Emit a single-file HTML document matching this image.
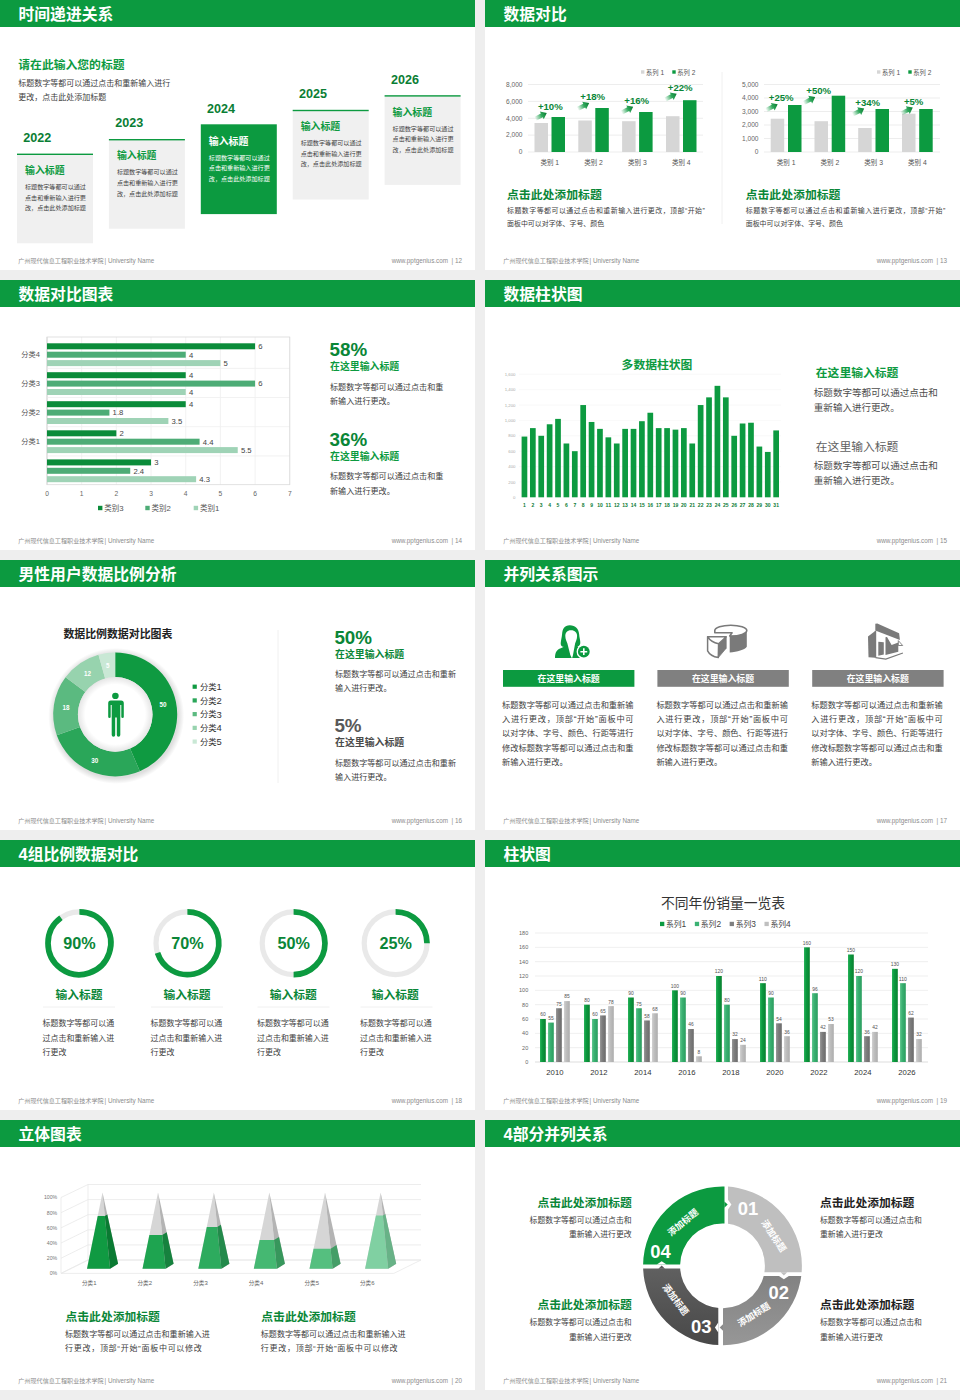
<!DOCTYPE html>
<html lang="zh-CN">
<head>
<meta charset="utf-8">
<title>PPT 模板预览</title>
<style>
html,body{margin:0;padding:0}
body{width:960px;height:1400px;position:relative;overflow:hidden;background:#eee;font-family:"Liberation Sans","Noto Sans CJK SC",sans-serif}
.s{position:absolute;width:475px;height:270px;background:#fff;overflow:hidden}
.s svg{display:block}
svg text{font-family:"Liberation Sans","Noto Sans CJK SC",sans-serif;white-space:pre}
</style>
</head>
<body>
<section class="s" style="left:0px;top:0px" aria-label="时间递进关系"><svg width="475" height="270" viewBox="0 0 475 270">
<rect x="0" y="0" width="475" height="27" fill="#0c9a40"/>
<text x="18.5" y="19.6" font-size="15.8" font-weight="bold" fill="#fff">时间递进关系</text>
<text x="18.3" y="263.32" font-size="6.1" fill="#8c8c8c">广州现代信息工程职业技术学院</text>
<text x="104.6" y="263.2" font-size="6.3" fill="#8c8c8c" textLength="49.6" lengthAdjust="spacingAndGlyphs">| University Name</text>
<text x="462" y="263.2" font-size="6.3" text-anchor="end" fill="#8c8c8c" textLength="70.27" lengthAdjust="spacingAndGlyphs">www.pptgenius.com  | 12</text>
<text x="18.3" y="69.08" font-size="11.8" font-weight="bold" fill="#0c9a40">请在此输入您的标题</text>
<text x="18.3" y="85.64" font-size="8" fill="#404040">标题数字等都可以通过点击和重新输入进行</text>
<text x="18.3" y="99.84" font-size="8" fill="#404040">更改，点击此处添加标题</text>
<rect x="17" y="154" width="76" height="89.3" fill="#f0f0f0"/>
<rect x="17" y="153.6" width="76" height="1.4" fill="#0c9a40"/>
<text x="23.3" y="141.9" font-size="12.6" font-weight="bold" fill="#0a7e34" textLength="28.03" lengthAdjust="spacingAndGlyphs">2022</text>
<text x="25" y="173.96" font-size="9.9" font-weight="bold" fill="#0c9a40">输入标题</text>
<text x="25" y="188.92" font-size="6.1" fill="#404040">标题数字等都可以通过</text>
<text x="25" y="199.52" font-size="6.1" fill="#404040">点击和重新输入进行更</text>
<text x="25" y="210.12" font-size="6.1" fill="#404040">改，点击此处添加标题</text>
<rect x="108.9" y="139.4" width="76" height="89.3" fill="#f0f0f0"/>
<rect x="108.9" y="139" width="76" height="1.4" fill="#0c9a40"/>
<text x="115.2" y="127.3" font-size="12.6" font-weight="bold" fill="#0a7e34" textLength="28.03" lengthAdjust="spacingAndGlyphs">2023</text>
<text x="116.9" y="159.36" font-size="9.9" font-weight="bold" fill="#0c9a40">输入标题</text>
<text x="116.9" y="174.32" font-size="6.1" fill="#404040">标题数字等都可以通过</text>
<text x="116.9" y="184.92" font-size="6.1" fill="#404040">点击和重新输入进行更</text>
<text x="116.9" y="195.52" font-size="6.1" fill="#404040">改，点击此处添加标题</text>
<rect x="200.8" y="124.3" width="76" height="89.8" fill="#0c9a40"/>
<text x="207.1" y="112.7" font-size="12.6" font-weight="bold" fill="#0a7e34" textLength="28.03" lengthAdjust="spacingAndGlyphs">2024</text>
<text x="208.8" y="144.76" font-size="9.9" font-weight="bold" fill="#fff">输入标题</text>
<text x="208.8" y="159.72" font-size="6.1" fill="#fff">标题数字等都可以通过</text>
<text x="208.8" y="170.32" font-size="6.1" fill="#fff">点击和重新输入进行更</text>
<text x="208.8" y="180.92" font-size="6.1" fill="#fff">改，点击此处添加标题</text>
<rect x="292.7" y="110.2" width="76" height="89.3" fill="#f0f0f0"/>
<rect x="292.7" y="109.8" width="76" height="1.4" fill="#0c9a40"/>
<text x="299" y="98.1" font-size="12.6" font-weight="bold" fill="#0a7e34" textLength="28.03" lengthAdjust="spacingAndGlyphs">2025</text>
<text x="300.7" y="130.16" font-size="9.9" font-weight="bold" fill="#0c9a40">输入标题</text>
<text x="300.7" y="145.12" font-size="6.1" fill="#404040">标题数字等都可以通过</text>
<text x="300.7" y="155.72" font-size="6.1" fill="#404040">点击和重新输入进行更</text>
<text x="300.7" y="166.32" font-size="6.1" fill="#404040">改，点击此处添加标题</text>
<rect x="384.6" y="95.6" width="76" height="89.3" fill="#f0f0f0"/>
<rect x="384.6" y="95.2" width="76" height="1.4" fill="#0c9a40"/>
<text x="390.9" y="83.5" font-size="12.6" font-weight="bold" fill="#0a7e34" textLength="28.03" lengthAdjust="spacingAndGlyphs">2026</text>
<text x="392.6" y="115.56" font-size="9.9" font-weight="bold" fill="#0c9a40">输入标题</text>
<text x="392.6" y="130.52" font-size="6.1" fill="#404040">标题数字等都可以通过</text>
<text x="392.6" y="141.12" font-size="6.1" fill="#404040">点击和重新输入进行更</text>
<text x="392.6" y="151.72" font-size="6.1" fill="#404040">改，点击此处添加标题</text>
</svg></section>
<section class="s" style="left:485px;top:0px" aria-label="数据对比"><svg width="475" height="270" viewBox="485 0 475 270">
<rect x="485" y="0" width="475" height="27" fill="#0c9a40"/>
<text x="503.5" y="19.6" font-size="15.8" font-weight="bold" fill="#fff">数据对比</text>
<text x="503.3" y="263.32" font-size="6.1" fill="#8c8c8c">广州现代信息工程职业技术学院</text>
<text x="589.6" y="263.2" font-size="6.3" fill="#8c8c8c" textLength="49.6" lengthAdjust="spacingAndGlyphs">| University Name</text>
<text x="947" y="263.2" font-size="6.3" text-anchor="end" fill="#8c8c8c" textLength="70.27" lengthAdjust="spacingAndGlyphs">www.pptgenius.com  | 13</text>
<defs><linearGradient id="ag" x1="-13" y1="0" x2="0" y2="0" gradientUnits="userSpaceOnUse"><stop offset="0" stop-color="#0c9a40" stop-opacity="0"/><stop offset=".55" stop-color="#0c9a40" stop-opacity=".85"/><stop offset="1" stop-color="#087a30"/></linearGradient></defs>
<line x1="528" y1="84.5" x2="703" y2="84.5" stroke="#e8e8e8" stroke-width="0.8"/>
<text x="522.5" y="86.8" font-size="6.6" text-anchor="end" fill="#666" textLength="16.52" lengthAdjust="spacingAndGlyphs">8,000</text>
<line x1="528" y1="101.38" x2="703" y2="101.38" stroke="#e8e8e8" stroke-width="0.8"/>
<text x="522.5" y="103.67" font-size="6.6" text-anchor="end" fill="#666" textLength="16.52" lengthAdjust="spacingAndGlyphs">6,000</text>
<line x1="528" y1="118.25" x2="703" y2="118.25" stroke="#e8e8e8" stroke-width="0.8"/>
<text x="522.5" y="120.55" font-size="6.6" text-anchor="end" fill="#666" textLength="16.52" lengthAdjust="spacingAndGlyphs">4,000</text>
<line x1="528" y1="135.12" x2="703" y2="135.12" stroke="#e8e8e8" stroke-width="0.8"/>
<text x="522.5" y="137.43" font-size="6.6" text-anchor="end" fill="#666" textLength="16.52" lengthAdjust="spacingAndGlyphs">2,000</text>
<line x1="528" y1="152" x2="703" y2="152" stroke="#e8e8e8" stroke-width="0.8"/>
<text x="522.5" y="154.3" font-size="6.6" text-anchor="end" fill="#666" textLength="3.67" lengthAdjust="spacingAndGlyphs">0</text>
<rect x="534.5" y="123" width="13.5" height="29" fill="#d6d6d6"/>
<rect x="551.5" y="117" width="13.5" height="35" fill="#0c9a40"/>
<text x="540.41" y="164.67" font-size="6.5" fill="#555">类别</text><text x="553.41" y="164.65" font-size="6.8" fill="#555" textLength="5.67" lengthAdjust="spacingAndGlyphs"> 1</text>
<rect x="578.3" y="120.5" width="13.5" height="31.5" fill="#d6d6d6"/>
<rect x="595.3" y="108" width="13.5" height="44" fill="#0c9a40"/>
<text x="584.21" y="164.67" font-size="6.5" fill="#555">类别</text><text x="597.21" y="164.65" font-size="6.8" fill="#555" textLength="5.67" lengthAdjust="spacingAndGlyphs"> 2</text>
<rect x="622.1" y="121.2" width="13.5" height="30.8" fill="#d6d6d6"/>
<rect x="639.1" y="112" width="13.5" height="40" fill="#0c9a40"/>
<text x="628.01" y="164.67" font-size="6.5" fill="#555">类别</text><text x="641.01" y="164.65" font-size="6.8" fill="#555" textLength="5.67" lengthAdjust="spacingAndGlyphs"> 3</text>
<rect x="666" y="116.2" width="13.5" height="35.8" fill="#d6d6d6"/>
<rect x="683" y="100.2" width="13.5" height="51.8" fill="#0c9a40"/>
<text x="671.91" y="164.67" font-size="6.5" fill="#555">类别</text><text x="684.91" y="164.65" font-size="6.8" fill="#555" textLength="5.67" lengthAdjust="spacingAndGlyphs"> 4</text>
<text x="537.9" y="110" font-size="9.6" font-weight="bold" fill="#0a8637" textLength="24.82" lengthAdjust="spacingAndGlyphs">+10%</text>
<path d="M0 0L-5.6-4.3L-5.6-2.1L-13-2.1L-13 2.1L-5.6 2.1L-5.6 4.3Z" fill="url(#ag)" transform="translate(546.8 112.9) rotate(-27)"/>
<text x="580.3" y="100.1" font-size="9.6" font-weight="bold" fill="#0a8637" textLength="24.82" lengthAdjust="spacingAndGlyphs">+18%</text>
<path d="M0 0L-5.6-4.3L-5.6-2.1L-13-2.1L-13 2.1L-5.6 2.1L-5.6 4.3Z" fill="url(#ag)" transform="translate(589.2 103) rotate(-27)"/>
<text x="624.3" y="103.8" font-size="9.6" font-weight="bold" fill="#0a8637" textLength="24.82" lengthAdjust="spacingAndGlyphs">+16%</text>
<path d="M0 0L-5.6-4.3L-5.6-2.1L-13-2.1L-13 2.1L-5.6 2.1L-5.6 4.3Z" fill="url(#ag)" transform="translate(633.2 106.7) rotate(-27)"/>
<text x="667.8" y="90.8" font-size="9.6" font-weight="bold" fill="#0a8637" textLength="24.82" lengthAdjust="spacingAndGlyphs">+22%</text>
<path d="M0 0L-5.6-4.3L-5.6-2.1L-13-2.1L-13 2.1L-5.6 2.1L-5.6 4.3Z" fill="url(#ag)" transform="translate(676.7 93.7) rotate(-27)"/>
<rect x="641" y="70.3" width="3.4" height="3.4" fill="#d6d6d6"/>
<text x="646" y="74.59" font-size="6.3" fill="#555">系列</text><text x="658.6" y="74.58" font-size="6.6" fill="#555" textLength="5.5" lengthAdjust="spacingAndGlyphs"> 1</text>
<rect x="672.3" y="70.3" width="3.4" height="3.4" fill="#0c9a40"/>
<text x="677.3" y="74.59" font-size="6.3" fill="#555">系列</text><text x="689.9" y="74.58" font-size="6.6" fill="#555" textLength="5.5" lengthAdjust="spacingAndGlyphs"> 2</text>
<line x1="764" y1="84.5" x2="940" y2="84.5" stroke="#e8e8e8" stroke-width="0.8"/>
<text x="758.5" y="86.8" font-size="6.6" text-anchor="end" fill="#666" textLength="16.52" lengthAdjust="spacingAndGlyphs">5,000</text>
<line x1="764" y1="98" x2="940" y2="98" stroke="#e8e8e8" stroke-width="0.8"/>
<text x="758.5" y="100.3" font-size="6.6" text-anchor="end" fill="#666" textLength="16.52" lengthAdjust="spacingAndGlyphs">4,000</text>
<line x1="764" y1="111.5" x2="940" y2="111.5" stroke="#e8e8e8" stroke-width="0.8"/>
<text x="758.5" y="113.8" font-size="6.6" text-anchor="end" fill="#666" textLength="16.52" lengthAdjust="spacingAndGlyphs">3,000</text>
<line x1="764" y1="125" x2="940" y2="125" stroke="#e8e8e8" stroke-width="0.8"/>
<text x="758.5" y="127.3" font-size="6.6" text-anchor="end" fill="#666" textLength="16.52" lengthAdjust="spacingAndGlyphs">2,000</text>
<line x1="764" y1="138.5" x2="940" y2="138.5" stroke="#e8e8e8" stroke-width="0.8"/>
<text x="758.5" y="140.8" font-size="6.6" text-anchor="end" fill="#666" textLength="16.52" lengthAdjust="spacingAndGlyphs">1,000</text>
<line x1="764" y1="152" x2="940" y2="152" stroke="#e8e8e8" stroke-width="0.8"/>
<text x="758.5" y="154.3" font-size="6.6" text-anchor="end" fill="#666" textLength="3.67" lengthAdjust="spacingAndGlyphs">0</text>
<rect x="770.7" y="118.7" width="13.5" height="33.3" fill="#d6d6d6"/>
<rect x="788" y="105" width="13.5" height="47" fill="#0c9a40"/>
<text x="776.76" y="164.67" font-size="6.5" fill="#555">类别</text><text x="789.76" y="164.65" font-size="6.8" fill="#555" textLength="5.67" lengthAdjust="spacingAndGlyphs"> 1</text>
<rect x="814.5" y="121.2" width="13.5" height="30.8" fill="#d6d6d6"/>
<rect x="831.7" y="95.7" width="13.5" height="56.3" fill="#0c9a40"/>
<text x="820.51" y="164.67" font-size="6.5" fill="#555">类别</text><text x="833.51" y="164.65" font-size="6.8" fill="#555" textLength="5.67" lengthAdjust="spacingAndGlyphs"> 2</text>
<rect x="858.2" y="128" width="13.5" height="24" fill="#d6d6d6"/>
<rect x="875.5" y="109" width="13.5" height="43" fill="#0c9a40"/>
<text x="864.26" y="164.67" font-size="6.5" fill="#555">类别</text><text x="877.26" y="164.65" font-size="6.8" fill="#555" textLength="5.67" lengthAdjust="spacingAndGlyphs"> 3</text>
<rect x="902" y="113.7" width="13.5" height="38.3" fill="#d6d6d6"/>
<rect x="919.2" y="109" width="13.5" height="43" fill="#0c9a40"/>
<text x="908.01" y="164.67" font-size="6.5" fill="#555">类别</text><text x="921.01" y="164.65" font-size="6.8" fill="#555" textLength="5.67" lengthAdjust="spacingAndGlyphs"> 4</text>
<text x="768.8" y="101.3" font-size="9.6" font-weight="bold" fill="#0a8637" textLength="24.82" lengthAdjust="spacingAndGlyphs">+25%</text>
<path d="M0 0L-5.6-4.3L-5.6-2.1L-13-2.1L-13 2.1L-5.6 2.1L-5.6 4.3Z" fill="url(#ag)" transform="translate(777.7 104.2) rotate(-27)"/>
<text x="806.3" y="94.2" font-size="9.6" font-weight="bold" fill="#0a8637" textLength="24.82" lengthAdjust="spacingAndGlyphs">+50%</text>
<path d="M0 0L-5.6-4.3L-5.6-2.1L-13-2.1L-13 2.1L-5.6 2.1L-5.6 4.3Z" fill="url(#ag)" transform="translate(815.2 97.1) rotate(-27)"/>
<text x="855.3" y="105.7" font-size="9.6" font-weight="bold" fill="#0a8637" textLength="24.82" lengthAdjust="spacingAndGlyphs">+34%</text>
<path d="M0 0L-5.6-4.3L-5.6-2.1L-13-2.1L-13 2.1L-5.6 2.1L-5.6 4.3Z" fill="url(#ag)" transform="translate(864.2 108.6) rotate(-27)"/>
<text x="903.9" y="104.7" font-size="9.6" font-weight="bold" fill="#0a8637" textLength="19.48" lengthAdjust="spacingAndGlyphs">+5%</text>
<path d="M0 0L-5.6-4.3L-5.6-2.1L-13-2.1L-13 2.1L-5.6 2.1L-5.6 4.3Z" fill="url(#ag)" transform="translate(912.8 107.6) rotate(-27)"/>
<rect x="877" y="70.3" width="3.4" height="3.4" fill="#d6d6d6"/>
<text x="882" y="74.59" font-size="6.3" fill="#555">系列</text><text x="894.6" y="74.58" font-size="6.6" fill="#555" textLength="5.5" lengthAdjust="spacingAndGlyphs"> 1</text>
<rect x="908.3" y="70.3" width="3.4" height="3.4" fill="#0c9a40"/>
<text x="913.3" y="74.59" font-size="6.3" fill="#555">系列</text><text x="925.9" y="74.58" font-size="6.6" fill="#555" textLength="5.5" lengthAdjust="spacingAndGlyphs"> 2</text>
<line x1="722" y1="72" x2="722" y2="224" stroke="#ececec" stroke-width="0.8"/>
<text x="507" y="198.7" font-size="11.85" font-weight="bold" fill="#0a8637">点击此处添加标题</text>
<text x="507" y="213.34" font-size="6.95" fill="#404040" textLength="197.8" lengthAdjust="spacing">标题数字等都可以通过点击和重新输入进行更改，顶部“开始”</text>
<text x="507" y="226.14" font-size="6.95" fill="#404040">面板中可以对字体、字号、颜色</text>
<text x="745.7" y="198.7" font-size="11.85" font-weight="bold" fill="#0a8637">点击此处添加标题</text>
<text x="745.7" y="213.34" font-size="6.95" fill="#404040" textLength="199.6" lengthAdjust="spacing">标题数字等都可以通过点击和重新输入进行更改，顶部“开始”</text>
<text x="745.7" y="226.14" font-size="6.95" fill="#404040">面板中可以对字体、字号、颜色</text>
</svg></section>
<section class="s" style="left:0px;top:280px" aria-label="数据对比图表"><svg width="475" height="270" viewBox="0 280 475 270">
<rect x="0" y="280" width="475" height="27" fill="#0c9a40"/>
<text x="18.5" y="299.6" font-size="15.8" font-weight="bold" fill="#fff">数据对比图表</text>
<text x="18.3" y="543.32" font-size="6.1" fill="#8c8c8c">广州现代信息工程职业技术学院</text>
<text x="104.6" y="543.2" font-size="6.3" fill="#8c8c8c" textLength="49.6" lengthAdjust="spacingAndGlyphs">| University Name</text>
<text x="462" y="543.2" font-size="6.3" text-anchor="end" fill="#8c8c8c" textLength="70.27" lengthAdjust="spacingAndGlyphs">www.pptgenius.com  | 14</text>
<line x1="47" y1="337" x2="47" y2="484.7" stroke="#d0d0d0" stroke-width="0.8"/>
<text x="47" y="495.8" font-size="6.7" text-anchor="middle" fill="#666" textLength="3.73" lengthAdjust="spacingAndGlyphs">0</text>
<line x1="81.68" y1="337" x2="81.68" y2="484.7" stroke="#efefef" stroke-width="0.8"/>
<text x="81.68" y="495.8" font-size="6.7" text-anchor="middle" fill="#666" textLength="3.73" lengthAdjust="spacingAndGlyphs">1</text>
<line x1="116.36" y1="337" x2="116.36" y2="484.7" stroke="#efefef" stroke-width="0.8"/>
<text x="116.36" y="495.8" font-size="6.7" text-anchor="middle" fill="#666" textLength="3.73" lengthAdjust="spacingAndGlyphs">2</text>
<line x1="151.04" y1="337" x2="151.04" y2="484.7" stroke="#efefef" stroke-width="0.8"/>
<text x="151.04" y="495.8" font-size="6.7" text-anchor="middle" fill="#666" textLength="3.73" lengthAdjust="spacingAndGlyphs">3</text>
<line x1="185.72" y1="337" x2="185.72" y2="484.7" stroke="#efefef" stroke-width="0.8"/>
<text x="185.72" y="495.8" font-size="6.7" text-anchor="middle" fill="#666" textLength="3.73" lengthAdjust="spacingAndGlyphs">4</text>
<line x1="220.4" y1="337" x2="220.4" y2="484.7" stroke="#efefef" stroke-width="0.8"/>
<text x="220.4" y="495.8" font-size="6.7" text-anchor="middle" fill="#666" textLength="3.73" lengthAdjust="spacingAndGlyphs">5</text>
<line x1="255.08" y1="337" x2="255.08" y2="484.7" stroke="#efefef" stroke-width="0.8"/>
<text x="255.08" y="495.8" font-size="6.7" text-anchor="middle" fill="#666" textLength="3.73" lengthAdjust="spacingAndGlyphs">6</text>
<line x1="289.76" y1="337" x2="289.76" y2="484.7" stroke="#efefef" stroke-width="0.8"/>
<text x="289.76" y="495.8" font-size="6.7" text-anchor="middle" fill="#666" textLength="3.73" lengthAdjust="spacingAndGlyphs">7</text>
<line x1="47" y1="368.4" x2="289.76" y2="368.4" stroke="#efefef" stroke-width="0.8"/>
<line x1="47" y1="397.5" x2="289.76" y2="397.5" stroke="#efefef" stroke-width="0.8"/>
<line x1="47" y1="426.7" x2="289.76" y2="426.7" stroke="#efefef" stroke-width="0.8"/>
<line x1="47" y1="455.9" x2="289.76" y2="455.9" stroke="#efefef" stroke-width="0.8"/>
<rect x="47" y="337" width="242.76" height="147.7" fill="none" stroke="#dadada" stroke-width=".8"/>
<rect x="47" y="343.3" width="208.08" height="6" fill="#0b8c3a"/>
<text x="258.28" y="349.1" font-size="7.7" fill="#444" textLength="4.28" lengthAdjust="spacingAndGlyphs">6</text>
<rect x="47" y="351.7" width="138.72" height="6" fill="#4dac76"/>
<text x="188.92" y="357.5" font-size="7.7" fill="#444" textLength="4.28" lengthAdjust="spacingAndGlyphs">4</text>
<rect x="47" y="360.1" width="173.4" height="6" fill="#9fd3b6"/>
<text x="223.6" y="365.9" font-size="7.7" fill="#444" textLength="4.28" lengthAdjust="spacingAndGlyphs">5</text>
<text x="21.37" y="357.34" font-size="7.2" fill="#555">分类</text><text x="35.77" y="357.34" font-size="7.6" fill="#555" textLength="4.23" lengthAdjust="spacingAndGlyphs">4</text>
<rect x="47" y="372.2" width="138.72" height="6" fill="#0b8c3a"/>
<text x="188.92" y="378" font-size="7.7" fill="#444" textLength="4.28" lengthAdjust="spacingAndGlyphs">4</text>
<rect x="47" y="380.6" width="208.08" height="6" fill="#4dac76"/>
<text x="258.28" y="386.4" font-size="7.7" fill="#444" textLength="4.28" lengthAdjust="spacingAndGlyphs">6</text>
<rect x="47" y="389" width="138.72" height="6" fill="#9fd3b6"/>
<text x="188.92" y="394.8" font-size="7.7" fill="#444" textLength="4.28" lengthAdjust="spacingAndGlyphs">4</text>
<text x="21.37" y="386.24" font-size="7.2" fill="#555">分类</text><text x="35.77" y="386.24" font-size="7.6" fill="#555" textLength="4.23" lengthAdjust="spacingAndGlyphs">3</text>
<rect x="47" y="401.2" width="138.72" height="6" fill="#0b8c3a"/>
<text x="188.92" y="407" font-size="7.7" fill="#444" textLength="4.28" lengthAdjust="spacingAndGlyphs">4</text>
<rect x="47" y="409.6" width="62.42" height="6" fill="#4dac76"/>
<text x="112.62" y="415.4" font-size="7.7" fill="#444" textLength="10.7" lengthAdjust="spacingAndGlyphs">1.8</text>
<rect x="47" y="418" width="121.38" height="6" fill="#9fd3b6"/>
<text x="171.58" y="423.8" font-size="7.7" fill="#444" textLength="10.7" lengthAdjust="spacingAndGlyphs">3.5</text>
<text x="21.37" y="415.24" font-size="7.2" fill="#555">分类</text><text x="35.77" y="415.24" font-size="7.6" fill="#555" textLength="4.23" lengthAdjust="spacingAndGlyphs">2</text>
<rect x="47" y="430.3" width="69.36" height="6" fill="#0b8c3a"/>
<text x="119.56" y="436.1" font-size="7.7" fill="#444" textLength="4.28" lengthAdjust="spacingAndGlyphs">2</text>
<rect x="47" y="438.7" width="152.59" height="6" fill="#4dac76"/>
<text x="202.79" y="444.5" font-size="7.7" fill="#444" textLength="10.7" lengthAdjust="spacingAndGlyphs">4.4</text>
<rect x="47" y="447.1" width="190.74" height="6" fill="#9fd3b6"/>
<text x="240.94" y="452.9" font-size="7.7" fill="#444" textLength="10.7" lengthAdjust="spacingAndGlyphs">5.5</text>
<text x="21.37" y="444.34" font-size="7.2" fill="#555">分类</text><text x="35.77" y="444.34" font-size="7.6" fill="#555" textLength="4.23" lengthAdjust="spacingAndGlyphs">1</text>
<rect x="47" y="459.4" width="104.04" height="6" fill="#0b8c3a"/>
<text x="154.24" y="465.2" font-size="7.7" fill="#444" textLength="4.28" lengthAdjust="spacingAndGlyphs">3</text>
<rect x="47" y="467.8" width="83.23" height="6" fill="#4dac76"/>
<text x="133.43" y="473.6" font-size="7.7" fill="#444" textLength="10.7" lengthAdjust="spacingAndGlyphs">2.4</text>
<rect x="47" y="476.2" width="149.12" height="6" fill="#9fd3b6"/>
<text x="199.32" y="482" font-size="7.7" fill="#444" textLength="10.7" lengthAdjust="spacingAndGlyphs">4.3</text>
<rect x="98" y="505.8" width="4.4" height="4.4" fill="#0b8c3a"/>
<text x="104.2" y="511.05" font-size="7.5" fill="#555">类别</text><text x="119.2" y="511.01" font-size="7.8" fill="#555" textLength="4.34" lengthAdjust="spacingAndGlyphs">3</text>
<rect x="145.3" y="505.8" width="4.4" height="4.4" fill="#4dac76"/>
<text x="151.5" y="511.05" font-size="7.5" fill="#555">类别</text><text x="166.5" y="511.01" font-size="7.8" fill="#555" textLength="4.34" lengthAdjust="spacingAndGlyphs">2</text>
<rect x="193.7" y="505.8" width="4.4" height="4.4" fill="#9fd3b6"/>
<text x="199.9" y="511.05" font-size="7.5" fill="#555">类别</text><text x="214.9" y="511.01" font-size="7.8" fill="#555" textLength="4.34" lengthAdjust="spacingAndGlyphs">1</text>
<text x="329.6" y="356.3" font-size="18.8" font-weight="bold" fill="#0a8637" textLength="37.63" lengthAdjust="spacingAndGlyphs">58%</text>
<text x="330" y="370.36" font-size="9.9" font-weight="bold" fill="#0c9a40">在这里输入标题</text>
<text x="330" y="389.88" font-size="8.1" fill="#404040">标题数字等都可以通过点击和重</text>
<text x="330" y="404.28" font-size="8.1" fill="#404040">新输入进行更改。</text>
<text x="329.6" y="445.9" font-size="18.8" font-weight="bold" fill="#0a8637" textLength="37.63" lengthAdjust="spacingAndGlyphs">36%</text>
<text x="330" y="459.96" font-size="9.9" font-weight="bold" fill="#0c9a40">在这里输入标题</text>
<text x="330" y="479.48" font-size="8.1" fill="#404040">标题数字等都可以通过点击和重</text>
<text x="330" y="493.88" font-size="8.1" fill="#404040">新输入进行更改。</text>
</svg></section>
<section class="s" style="left:485px;top:280px" aria-label="数据柱状图"><svg width="475" height="270" viewBox="485 280 475 270">
<rect x="485" y="280" width="475" height="27" fill="#0c9a40"/>
<text x="503.5" y="299.6" font-size="15.8" font-weight="bold" fill="#fff">数据柱状图</text>
<text x="503.3" y="543.32" font-size="6.1" fill="#8c8c8c">广州现代信息工程职业技术学院</text>
<text x="589.6" y="543.2" font-size="6.3" fill="#8c8c8c" textLength="49.6" lengthAdjust="spacingAndGlyphs">| University Name</text>
<text x="947" y="543.2" font-size="6.3" text-anchor="end" fill="#8c8c8c" textLength="70.27" lengthAdjust="spacingAndGlyphs">www.pptgenius.com  | 15</text>
<text x="621.6" y="369.18" font-size="11.8" font-weight="bold" fill="#0c9a40">多数据柱状图</text>
<text x="515.5" y="498.9" font-size="4.3" text-anchor="end" fill="#aaa" textLength="2.39" lengthAdjust="spacingAndGlyphs">0</text>
<line x1="519" y1="481.93" x2="781" y2="481.93" stroke="#f6f6f6" stroke-width="0.7"/>
<text x="515.5" y="483.53" font-size="4.3" text-anchor="end" fill="#aaa" textLength="7.17" lengthAdjust="spacingAndGlyphs">200</text>
<line x1="519" y1="466.55" x2="781" y2="466.55" stroke="#f6f6f6" stroke-width="0.7"/>
<text x="515.5" y="468.15" font-size="4.3" text-anchor="end" fill="#aaa" textLength="7.17" lengthAdjust="spacingAndGlyphs">400</text>
<line x1="519" y1="451.18" x2="781" y2="451.18" stroke="#f6f6f6" stroke-width="0.7"/>
<text x="515.5" y="452.78" font-size="4.3" text-anchor="end" fill="#aaa" textLength="7.17" lengthAdjust="spacingAndGlyphs">600</text>
<line x1="519" y1="435.8" x2="781" y2="435.8" stroke="#f6f6f6" stroke-width="0.7"/>
<text x="515.5" y="437.4" font-size="4.3" text-anchor="end" fill="#aaa" textLength="7.17" lengthAdjust="spacingAndGlyphs">800</text>
<line x1="519" y1="420.43" x2="781" y2="420.43" stroke="#f6f6f6" stroke-width="0.7"/>
<text x="515.5" y="422.03" font-size="4.3" text-anchor="end" fill="#aaa" textLength="10.76" lengthAdjust="spacingAndGlyphs">1,000</text>
<line x1="519" y1="405.05" x2="781" y2="405.05" stroke="#f6f6f6" stroke-width="0.7"/>
<text x="515.5" y="406.65" font-size="4.3" text-anchor="end" fill="#aaa" textLength="10.76" lengthAdjust="spacingAndGlyphs">1,200</text>
<line x1="519" y1="389.68" x2="781" y2="389.68" stroke="#f6f6f6" stroke-width="0.7"/>
<text x="515.5" y="391.28" font-size="4.3" text-anchor="end" fill="#aaa" textLength="10.76" lengthAdjust="spacingAndGlyphs">1,400</text>
<line x1="519" y1="374.3" x2="781" y2="374.3" stroke="#f6f6f6" stroke-width="0.7"/>
<text x="515.5" y="375.9" font-size="4.3" text-anchor="end" fill="#aaa" textLength="10.76" lengthAdjust="spacingAndGlyphs">1,600</text>
<rect x="521.6" y="436.57" width="5.7" height="60.73" fill="#0c9a40"/>
<text x="524.45" y="506.9" font-size="5" font-weight="bold" text-anchor="middle" fill="#0a7a33" textLength="2.78" lengthAdjust="spacingAndGlyphs">1</text>
<rect x="529.99" y="428.11" width="5.7" height="69.19" fill="#0c9a40"/>
<text x="532.84" y="506.9" font-size="5" font-weight="bold" text-anchor="middle" fill="#0a7a33" textLength="2.78" lengthAdjust="spacingAndGlyphs">2</text>
<rect x="538.38" y="435.8" width="5.7" height="61.5" fill="#0c9a40"/>
<text x="541.23" y="506.9" font-size="5" font-weight="bold" text-anchor="middle" fill="#0a7a33" textLength="2.78" lengthAdjust="spacingAndGlyphs">3</text>
<rect x="546.77" y="424.27" width="5.7" height="73.03" fill="#0c9a40"/>
<text x="549.62" y="506.9" font-size="5" font-weight="bold" text-anchor="middle" fill="#0a7a33" textLength="2.78" lengthAdjust="spacingAndGlyphs">4</text>
<rect x="555.16" y="418.89" width="5.7" height="78.41" fill="#0c9a40"/>
<text x="558.01" y="506.9" font-size="5" font-weight="bold" text-anchor="middle" fill="#0a7a33" textLength="2.78" lengthAdjust="spacingAndGlyphs">5</text>
<rect x="563.55" y="443.49" width="5.7" height="53.81" fill="#0c9a40"/>
<text x="566.4" y="506.9" font-size="5" font-weight="bold" text-anchor="middle" fill="#0a7a33" textLength="2.78" lengthAdjust="spacingAndGlyphs">6</text>
<rect x="571.94" y="451.18" width="5.7" height="46.12" fill="#0c9a40"/>
<text x="574.79" y="506.9" font-size="5" font-weight="bold" text-anchor="middle" fill="#0a7a33" textLength="2.78" lengthAdjust="spacingAndGlyphs">7</text>
<rect x="580.33" y="405.05" width="5.7" height="92.25" fill="#0c9a40"/>
<text x="583.18" y="506.9" font-size="5" font-weight="bold" text-anchor="middle" fill="#0a7a33" textLength="2.78" lengthAdjust="spacingAndGlyphs">8</text>
<rect x="588.72" y="421.96" width="5.7" height="75.34" fill="#0c9a40"/>
<text x="591.57" y="506.9" font-size="5" font-weight="bold" text-anchor="middle" fill="#0a7a33" textLength="2.78" lengthAdjust="spacingAndGlyphs">9</text>
<rect x="597.11" y="428.88" width="5.7" height="68.42" fill="#0c9a40"/>
<text x="599.96" y="506.9" font-size="5" font-weight="bold" text-anchor="middle" fill="#0a7a33" textLength="5.56" lengthAdjust="spacingAndGlyphs">10</text>
<rect x="605.5" y="437.34" width="5.7" height="59.96" fill="#0c9a40"/>
<text x="608.35" y="506.9" font-size="5" font-weight="bold" text-anchor="middle" fill="#0a7a33" textLength="5.56" lengthAdjust="spacingAndGlyphs">11</text>
<rect x="613.89" y="443.49" width="5.7" height="53.81" fill="#0c9a40"/>
<text x="616.74" y="506.9" font-size="5" font-weight="bold" text-anchor="middle" fill="#0a7a33" textLength="5.56" lengthAdjust="spacingAndGlyphs">12</text>
<rect x="622.28" y="428.88" width="5.7" height="68.42" fill="#0c9a40"/>
<text x="625.13" y="506.9" font-size="5" font-weight="bold" text-anchor="middle" fill="#0a7a33" textLength="5.56" lengthAdjust="spacingAndGlyphs">13</text>
<rect x="630.67" y="428.88" width="5.7" height="68.42" fill="#0c9a40"/>
<text x="633.52" y="506.9" font-size="5" font-weight="bold" text-anchor="middle" fill="#0a7a33" textLength="5.56" lengthAdjust="spacingAndGlyphs">14</text>
<rect x="639.06" y="421.19" width="5.7" height="76.11" fill="#0c9a40"/>
<text x="641.91" y="506.9" font-size="5" font-weight="bold" text-anchor="middle" fill="#0a7a33" textLength="5.56" lengthAdjust="spacingAndGlyphs">15</text>
<rect x="647.45" y="412.74" width="5.7" height="84.56" fill="#0c9a40"/>
<text x="650.3" y="506.9" font-size="5" font-weight="bold" text-anchor="middle" fill="#0a7a33" textLength="5.56" lengthAdjust="spacingAndGlyphs">16</text>
<rect x="655.84" y="428.11" width="5.7" height="69.19" fill="#0c9a40"/>
<text x="658.69" y="506.9" font-size="5" font-weight="bold" text-anchor="middle" fill="#0a7a33" textLength="5.56" lengthAdjust="spacingAndGlyphs">17</text>
<rect x="664.23" y="428.11" width="5.7" height="69.19" fill="#0c9a40"/>
<text x="667.08" y="506.9" font-size="5" font-weight="bold" text-anchor="middle" fill="#0a7a33" textLength="5.56" lengthAdjust="spacingAndGlyphs">18</text>
<rect x="672.62" y="429.65" width="5.7" height="67.65" fill="#0c9a40"/>
<text x="675.47" y="506.9" font-size="5" font-weight="bold" text-anchor="middle" fill="#0a7a33" textLength="5.56" lengthAdjust="spacingAndGlyphs">19</text>
<rect x="681.01" y="428.11" width="5.7" height="69.19" fill="#0c9a40"/>
<text x="683.86" y="506.9" font-size="5" font-weight="bold" text-anchor="middle" fill="#0a7a33" textLength="5.56" lengthAdjust="spacingAndGlyphs">20</text>
<rect x="689.4" y="443.49" width="5.7" height="53.81" fill="#0c9a40"/>
<text x="692.25" y="506.9" font-size="5" font-weight="bold" text-anchor="middle" fill="#0a7a33" textLength="5.56" lengthAdjust="spacingAndGlyphs">21</text>
<rect x="697.79" y="405.05" width="5.7" height="92.25" fill="#0c9a40"/>
<text x="700.64" y="506.9" font-size="5" font-weight="bold" text-anchor="middle" fill="#0a7a33" textLength="5.56" lengthAdjust="spacingAndGlyphs">22</text>
<rect x="706.18" y="397.36" width="5.7" height="99.94" fill="#0c9a40"/>
<text x="709.03" y="506.9" font-size="5" font-weight="bold" text-anchor="middle" fill="#0a7a33" textLength="5.56" lengthAdjust="spacingAndGlyphs">23</text>
<rect x="714.57" y="385.83" width="5.7" height="111.47" fill="#0c9a40"/>
<text x="717.42" y="506.9" font-size="5" font-weight="bold" text-anchor="middle" fill="#0a7a33" textLength="5.56" lengthAdjust="spacingAndGlyphs">24</text>
<rect x="722.96" y="397.36" width="5.7" height="99.94" fill="#0c9a40"/>
<text x="725.81" y="506.9" font-size="5" font-weight="bold" text-anchor="middle" fill="#0a7a33" textLength="5.56" lengthAdjust="spacingAndGlyphs">25</text>
<rect x="731.35" y="435.8" width="5.7" height="61.5" fill="#0c9a40"/>
<text x="734.2" y="506.9" font-size="5" font-weight="bold" text-anchor="middle" fill="#0a7a33" textLength="5.56" lengthAdjust="spacingAndGlyphs">26</text>
<rect x="739.74" y="423.5" width="5.7" height="73.8" fill="#0c9a40"/>
<text x="742.59" y="506.9" font-size="5" font-weight="bold" text-anchor="middle" fill="#0a7a33" textLength="5.56" lengthAdjust="spacingAndGlyphs">27</text>
<rect x="748.13" y="422.73" width="5.7" height="74.57" fill="#0c9a40"/>
<text x="750.98" y="506.9" font-size="5" font-weight="bold" text-anchor="middle" fill="#0a7a33" textLength="5.56" lengthAdjust="spacingAndGlyphs">28</text>
<rect x="756.52" y="446.56" width="5.7" height="50.74" fill="#0c9a40"/>
<text x="759.37" y="506.9" font-size="5" font-weight="bold" text-anchor="middle" fill="#0a7a33" textLength="5.56" lengthAdjust="spacingAndGlyphs">29</text>
<rect x="764.91" y="451.94" width="5.7" height="45.36" fill="#0c9a40"/>
<text x="767.76" y="506.9" font-size="5" font-weight="bold" text-anchor="middle" fill="#0a7a33" textLength="5.56" lengthAdjust="spacingAndGlyphs">30</text>
<rect x="773.3" y="430.42" width="5.7" height="66.88" fill="#0c9a40"/>
<text x="776.15" y="506.9" font-size="5" font-weight="bold" text-anchor="middle" fill="#0a7a33" textLength="5.56" lengthAdjust="spacingAndGlyphs">31</text>
<text x="815.8" y="377.38" font-size="11.8" font-weight="bold" fill="#0c9a40">在这里输入标题</text>
<text x="813.8" y="395.83" font-size="9.55" fill="#4d4d4d">标题数字等都可以通过点击和</text>
<text x="813.8" y="411.23" font-size="9.55" fill="#4d4d4d">重新输入进行更改。</text>
<text x="815.8" y="451.48" font-size="11.8" fill="#606060">在这里输入标题</text>
<text x="813.8" y="468.83" font-size="9.55" fill="#4d4d4d">标题数字等都可以通过点击和</text>
<text x="813.8" y="484.23" font-size="9.55" fill="#4d4d4d">重新输入进行更改。</text>
</svg></section>
<section class="s" style="left:0px;top:560px" aria-label="男性用户数据比例分析"><svg width="475" height="270" viewBox="0 560 475 270">
<rect x="0" y="560" width="475" height="27" fill="#0c9a40"/>
<text x="18.5" y="579.6" font-size="15.8" font-weight="bold" fill="#fff">男性用户数据比例分析</text>
<text x="18.3" y="823.32" font-size="6.1" fill="#8c8c8c">广州现代信息工程职业技术学院</text>
<text x="104.6" y="823.2" font-size="6.3" fill="#8c8c8c" textLength="49.6" lengthAdjust="spacingAndGlyphs">| University Name</text>
<text x="462" y="823.2" font-size="6.3" text-anchor="end" fill="#8c8c8c" textLength="70.27" lengthAdjust="spacingAndGlyphs">www.pptgenius.com  | 16</text>
<text x="63.4" y="638.04" font-size="10.9" font-weight="bold" fill="#222">数据比例数据对比图表</text>
<defs><radialGradient id="ds" cx="116.2" cy="715.9" r="68" gradientUnits="userSpaceOnUse"><stop offset="0.912" stop-color="#000" stop-opacity=".13"/><stop offset="1" stop-color="#000" stop-opacity="0"/></radialGradient><radialGradient id="is" cx="115.2" cy="714.4" r="37.3" gradientUnits="userSpaceOnUse"><stop offset=".8" stop-color="#000" stop-opacity="0"/><stop offset="1" stop-color="#000" stop-opacity=".1"/></radialGradient></defs>
<circle cx="116.2" cy="715.9" r="68" fill="url(#ds)"/>
<path d="M115.2 652.4A62 62 0 0 1 139.9 771.27L130.06 748.61A37.3 37.3 0 0 0 115.2 677.1Z" fill="#0f9a41"/>
<path d="M139.9 771.27A62 62 0 0 1 56.78 735.16L80.05 726.89A37.3 37.3 0 0 0 130.06 748.61Z" fill="#2aa659"/>
<path d="M56.78 735.16A62 62 0 0 1 65.54 677.28L85.33 692.07A37.3 37.3 0 0 0 80.05 726.89Z" fill="#5bba80"/>
<path d="M65.54 677.28A62 62 0 0 1 98.47 654.7L105.14 678.48A37.3 37.3 0 0 0 85.33 692.07Z" fill="#97d3ae"/>
<path d="M98.47 654.7A62 62 0 0 1 115.2 652.4L115.2 677.1A37.3 37.3 0 0 0 105.14 678.48Z" fill="#c9e8d5"/>
<circle cx="115.2" cy="714.4" r="37.3" fill="#fff"/>
<circle cx="115.2" cy="714.4" r="37.3" fill="url(#is)"/>
<text x="163" y="707.2" font-size="6.3" font-weight="bold" text-anchor="middle" fill="#fff" textLength="7.01" lengthAdjust="spacingAndGlyphs">50</text>
<text x="94.7" y="762.6" font-size="6.3" font-weight="bold" text-anchor="middle" fill="#fff" textLength="7.01" lengthAdjust="spacingAndGlyphs">30</text>
<text x="66" y="709.9" font-size="6.3" font-weight="bold" text-anchor="middle" fill="#fff" textLength="7.01" lengthAdjust="spacingAndGlyphs">18</text>
<text x="87.4" y="675.5" font-size="6.3" font-weight="bold" text-anchor="middle" fill="#fff" textLength="7.01" lengthAdjust="spacingAndGlyphs">12</text>
<text x="107.8" y="668.2" font-size="6.3" font-weight="bold" text-anchor="middle" fill="#fff" textLength="3.5" lengthAdjust="spacingAndGlyphs">5</text>
<g fill="#0c9a40"><ellipse cx="115.4" cy="695.9" rx="3.3" ry="3.1"/><path d="M109.6 700.6h11.6a2.6 2.6 0 0 1 2.6 2.6v13.6a1.25 1.25 0 0 1-2.5 0v-11.8h-1v29.9a1.75 1.75 0 0 1-3.5 0v-17.3h-1.6v17.3a1.75 1.75 0 0 1-3.5 0v-29.9h-1v11.8a1.25 1.25 0 0 1-2.5 0v-13.6a2.6 2.6 0 0 1 2.6-2.6z"/></g>
<rect x="192.6" y="684.6" width="4.2" height="4.2" fill="#0f9a41"/>
<text x="200" y="689.95" font-size="8.3" fill="#333">分类</text><text x="216.6" y="690.18" font-size="9.4" fill="#333" textLength="5.23" lengthAdjust="spacingAndGlyphs">1</text>
<rect x="192.6" y="698.32" width="4.2" height="4.2" fill="#2aa659"/>
<text x="200" y="703.67" font-size="8.3" fill="#333">分类</text><text x="216.6" y="703.9" font-size="9.4" fill="#333" textLength="5.23" lengthAdjust="spacingAndGlyphs">2</text>
<rect x="192.6" y="712.04" width="4.2" height="4.2" fill="#5bba80"/>
<text x="200" y="717.39" font-size="8.3" fill="#333">分类</text><text x="216.6" y="717.62" font-size="9.4" fill="#333" textLength="5.23" lengthAdjust="spacingAndGlyphs">3</text>
<rect x="192.6" y="725.76" width="4.2" height="4.2" fill="#97d3ae"/>
<text x="200" y="731.11" font-size="8.3" fill="#333">分类</text><text x="216.6" y="731.34" font-size="9.4" fill="#333" textLength="5.23" lengthAdjust="spacingAndGlyphs">4</text>
<rect x="192.6" y="739.48" width="4.2" height="4.2" fill="#c9e8d5"/>
<text x="200" y="744.83" font-size="8.3" fill="#333">分类</text><text x="216.6" y="745.06" font-size="9.4" fill="#333" textLength="5.23" lengthAdjust="spacingAndGlyphs">5</text>
<line x1="278" y1="630" x2="278" y2="783" stroke="#ececec" stroke-width="0.8"/>
<text x="334.4" y="643.7" font-size="18.8" font-weight="bold" fill="#0a8637" textLength="37.63" lengthAdjust="spacingAndGlyphs">50%</text>
<text x="335" y="657.66" font-size="9.9" font-weight="bold" fill="#0a8637">在这里输入标题</text>
<text x="335" y="677.47" font-size="8.075" fill="#404040">标题数字等都可以通过点击和重新</text>
<text x="335" y="691.47" font-size="8.075" fill="#404040">输入进行更改。</text>
<text x="334.4" y="732.4" font-size="18.8" font-weight="bold" fill="#595959" textLength="27.17" lengthAdjust="spacingAndGlyphs">5%</text>
<text x="335" y="746.36" font-size="9.9" font-weight="bold" fill="#4a4a4a">在这里输入标题</text>
<text x="335" y="766.17" font-size="8.075" fill="#404040">标题数字等都可以通过点击和重新</text>
<text x="335" y="780.17" font-size="8.075" fill="#404040">输入进行更改。</text>
</svg></section>
<section class="s" style="left:485px;top:560px" aria-label="并列关系图示"><svg width="475" height="270" viewBox="485 560 475 270">
<rect x="485" y="560" width="475" height="27" fill="#0c9a40"/>
<text x="503.5" y="579.6" font-size="15.8" font-weight="bold" fill="#fff">并列关系图示</text>
<text x="503.3" y="823.32" font-size="6.1" fill="#8c8c8c">广州现代信息工程职业技术学院</text>
<text x="589.6" y="823.2" font-size="6.3" fill="#8c8c8c" textLength="49.6" lengthAdjust="spacingAndGlyphs">| University Name</text>
<text x="947" y="823.2" font-size="6.3" text-anchor="end" fill="#8c8c8c" textLength="70.27" lengthAdjust="spacingAndGlyphs">www.pptgenius.com  | 17</text>
<g fill="#0c9a40"><path d="M569.800 625.200C575.500 625.200 578.700 629 579.100 634C579.400 638 580.500 640.500 580.300 643.200C580.100 645.600 578.200 646.900 575.600 647.100L564.400 647.100C561.900 646.900 560.500 645.600 560.700 643.200C560.900 640.500 561.700 638 562.100 634C562.500 629 564.300 625.200 569.800 625.200Z"/><path d="M555 658C555 652.300 556.800 649.700 560.800 648.200L566.500 645.600L575.800 645.600C578.600 647 579.700 648.600 579.700 651.200L579.700 658Z"/></g>
<path d="M571 630.300C575 630.300 577.100 632.800 577.100 635.800C577.100 639.500 575.700 641.500 575.100 643.500L573 655L572 658.600L570.300 655L567.400 643.500C566.800 641.500 565.300 639.500 565.300 635.800C565.300 632.800 567 630.300 571 630.300Z" fill="#fff"/>
<circle cx="583.8" cy="651.7" r="7.2" fill="#fff"/>
<circle cx="583.8" cy="651.7" r="5.9" fill="#0c9a40"/>
<path d="M583 648.300h1.600v2.600h2.600v1.600h-2.600v2.600h-1.600v-2.600h-2.600v-1.600h2.600z" fill="#fff"/>
<path d="M729.700 635.800c7.400 0 15-1.800 17.100-5v16c-2.300 3.200-9.400 5.200-17.100 5.600z" fill="#7a7a7a"/>
<path d="M714.800 632.800v-2.200c0-3 7.200-5.400 16-5.400s16 2.400 16 5.400s-7.200 5.400-16 5.400h-1.100l2.400-3.200z" fill="#fff" stroke="#7a7a7a" stroke-width="1.600" stroke-linejoin="round"/>
<path d="M718.600 643.800l7.600-7v11.400l-7.900 9.400z" fill="#7a7a7a" stroke="#7a7a7a" stroke-width=".8" stroke-linejoin="round"/>
<path d="M707.600 636.700h18.600l-7.600 7.100c-4.800-.9-8.900-3.500-11-7.100zv14.200c1.800 3.600 5.900 5.900 10.700 6.700l.3-13.800" fill="#fff" stroke="#7a7a7a" stroke-width="1.500" stroke-linejoin="round"/>
<g fill="#7a7a7a"><path d="M868 636.400l7.500-5.700v27l-7 -.4z"/><path d="M875.300 623.800l2-.3l21.800 9.800l.8 6.600l-24.600-9.300z"/><path d="M878.300 641.700l5.500 .5v12.300l-5.500 1.300z"/><path d="M885.500 637.200l1.500-.3l4.600 8 6.700-2.400v9.200l-12.800 3.300z"/></g>
<path d="M875.500 657.600l10.300 1.500l17.100-6.100" fill="none" stroke="#7a7a7a" stroke-width="1.100"/>
<path d="M898.300 640.600l4.400 4.900h-4.400z" fill="none" stroke="#7a7a7a" stroke-width=".9"/>
<path d="M875.500 630.800v26.800" fill="none" stroke="#7a7a7a" stroke-width="1.400"/>
<rect x="503" y="670" width="131.4" height="16.8" fill="#0c9a40"/>
<text x="537.55" y="681.88" font-size="8.9" font-weight="bold" fill="#fff">在这里输入标题</text>
<text x="502" y="707.63" font-size="8.225" fill="#404040">标题数字等都可以通过点击和重新输</text>
<text x="502" y="722.03" font-size="8.225" fill="#404040" textLength="131.6" lengthAdjust="spacing">入进行更改，顶部“开始”面板中可</text>
<text x="502" y="736.43" font-size="8.225" fill="#404040">以对字体、字号、颜色、行距等进行</text>
<text x="502" y="750.83" font-size="8.225" fill="#404040">修改标题数字等都可以通过点击和重</text>
<text x="502" y="765.23" font-size="8.225" fill="#404040">新输入进行更改。</text>
<rect x="657.4" y="670" width="131.4" height="16.8" fill="#808080"/>
<text x="691.95" y="681.88" font-size="8.9" font-weight="bold" fill="#fff">在这里输入标题</text>
<text x="656.4" y="707.63" font-size="8.225" fill="#404040">标题数字等都可以通过点击和重新输</text>
<text x="656.4" y="722.03" font-size="8.225" fill="#404040" textLength="131.6" lengthAdjust="spacing">入进行更改，顶部“开始”面板中可</text>
<text x="656.4" y="736.43" font-size="8.225" fill="#404040">以对字体、字号、颜色、行距等进行</text>
<text x="656.4" y="750.83" font-size="8.225" fill="#404040">修改标题数字等都可以通过点击和重</text>
<text x="656.4" y="765.23" font-size="8.225" fill="#404040">新输入进行更改。</text>
<rect x="812.2" y="670" width="131.4" height="16.8" fill="#808080"/>
<text x="846.75" y="681.88" font-size="8.9" font-weight="bold" fill="#fff">在这里输入标题</text>
<text x="811.2" y="707.63" font-size="8.225" fill="#404040">标题数字等都可以通过点击和重新输</text>
<text x="811.2" y="722.03" font-size="8.225" fill="#404040" textLength="131.6" lengthAdjust="spacing">入进行更改，顶部“开始”面板中可</text>
<text x="811.2" y="736.43" font-size="8.225" fill="#404040">以对字体、字号、颜色、行距等进行</text>
<text x="811.2" y="750.83" font-size="8.225" fill="#404040">修改标题数字等都可以通过点击和重</text>
<text x="811.2" y="765.23" font-size="8.225" fill="#404040">新输入进行更改。</text>
</svg></section>
<section class="s" style="left:0px;top:840px" aria-label="4组比例数据对比"><svg width="475" height="270" viewBox="0 840 475 270">
<rect x="0" y="840" width="475" height="27" fill="#0c9a40"/>
<text x="27.68" y="859.6" font-size="15.8" font-weight="bold" fill="#fff">组比例数据对比</text><text x="18.5" y="859.54" font-size="16.5" font-weight="bold" fill="#fff" textLength="9.18" lengthAdjust="spacingAndGlyphs">4</text>
<text x="18.3" y="1103.32" font-size="6.1" fill="#8c8c8c">广州现代信息工程职业技术学院</text>
<text x="104.6" y="1103.2" font-size="6.3" fill="#8c8c8c" textLength="49.6" lengthAdjust="spacingAndGlyphs">| University Name</text>
<text x="462" y="1103.2" font-size="6.3" text-anchor="end" fill="#8c8c8c" textLength="70.27" lengthAdjust="spacingAndGlyphs">www.pptgenius.com  | 18</text>
<circle cx="79.4" cy="943.2" r="31.4" fill="none" stroke="#e9e9e9" stroke-width="5.2"/>
<path d="M79.4 911.8A31.4 31.4 0 1 1 60.94 917.8" fill="none" stroke="#0c9a40" stroke-width="5.700"/>
<text x="79.4" y="948.7" font-size="16.2" font-weight="bold" text-anchor="middle" fill="#0a8637" textLength="32.42" lengthAdjust="spacingAndGlyphs">90%</text>
<text x="55.5" y="999.47" font-size="11.75" font-weight="bold" fill="#0a8637">输入标题</text>
<line x1="43" y1="1007" x2="115" y2="1007" stroke="#ececec" stroke-width="0.8"/>
<text x="42.5" y="1026.33" font-size="7.975" fill="#404040">标题数字等都可以通</text>
<text x="42.5" y="1040.83" font-size="7.975" fill="#404040">过点击和重新输入进</text>
<text x="42.5" y="1055.33" font-size="7.975" fill="#404040">行更改</text>
<circle cx="187.4" cy="943.2" r="31.4" fill="none" stroke="#e9e9e9" stroke-width="5.2"/>
<path d="M187.4 911.8A31.4 31.4 0 1 1 157.54 952.9" fill="none" stroke="#0c9a40" stroke-width="5.700"/>
<text x="187.4" y="948.7" font-size="16.2" font-weight="bold" text-anchor="middle" fill="#0a8637" textLength="32.42" lengthAdjust="spacingAndGlyphs">70%</text>
<text x="163.5" y="999.47" font-size="11.75" font-weight="bold" fill="#0a8637">输入标题</text>
<line x1="151" y1="1007" x2="223" y2="1007" stroke="#ececec" stroke-width="0.8"/>
<text x="150.5" y="1026.33" font-size="7.975" fill="#404040">标题数字等都可以通</text>
<text x="150.5" y="1040.83" font-size="7.975" fill="#404040">过点击和重新输入进</text>
<text x="150.5" y="1055.33" font-size="7.975" fill="#404040">行更改</text>
<circle cx="293.6" cy="943.2" r="31.4" fill="none" stroke="#e9e9e9" stroke-width="5.2"/>
<path d="M293.6 911.8A31.4 31.4 0 0 1 293.6 974.6" fill="none" stroke="#0c9a40" stroke-width="5.700"/>
<text x="293.6" y="948.7" font-size="16.2" font-weight="bold" text-anchor="middle" fill="#0a8637" textLength="32.42" lengthAdjust="spacingAndGlyphs">50%</text>
<text x="269.7" y="999.47" font-size="11.75" font-weight="bold" fill="#0a8637">输入标题</text>
<line x1="257.5" y1="1007" x2="329.5" y2="1007" stroke="#ececec" stroke-width="0.8"/>
<text x="257" y="1026.33" font-size="7.975" fill="#404040">标题数字等都可以通</text>
<text x="257" y="1040.83" font-size="7.975" fill="#404040">过点击和重新输入进</text>
<text x="257" y="1055.33" font-size="7.975" fill="#404040">行更改</text>
<circle cx="395.6" cy="943.2" r="31.4" fill="none" stroke="#e9e9e9" stroke-width="5.2"/>
<path d="M395.6 911.8A31.4 31.4 0 0 1 427 943.2" fill="none" stroke="#0c9a40" stroke-width="5.700"/>
<text x="395.6" y="948.7" font-size="16.2" font-weight="bold" text-anchor="middle" fill="#0a8637" textLength="32.42" lengthAdjust="spacingAndGlyphs">25%</text>
<text x="371.7" y="999.47" font-size="11.75" font-weight="bold" fill="#0a8637">输入标题</text>
<line x1="360.5" y1="1007" x2="432.5" y2="1007" stroke="#ececec" stroke-width="0.8"/>
<text x="360" y="1026.33" font-size="7.975" fill="#404040">标题数字等都可以通</text>
<text x="360" y="1040.83" font-size="7.975" fill="#404040">过点击和重新输入进</text>
<text x="360" y="1055.33" font-size="7.975" fill="#404040">行更改</text>
</svg></section>
<section class="s" style="left:485px;top:840px" aria-label="柱状图"><svg width="475" height="270" viewBox="485 840 475 270">
<rect x="485" y="840" width="475" height="27" fill="#0c9a40"/>
<text x="503.5" y="859.6" font-size="15.8" font-weight="bold" fill="#fff">柱状图</text>
<text x="503.3" y="1103.32" font-size="6.1" fill="#8c8c8c">广州现代信息工程职业技术学院</text>
<text x="589.6" y="1103.2" font-size="6.3" fill="#8c8c8c" textLength="49.6" lengthAdjust="spacingAndGlyphs">| University Name</text>
<text x="947" y="1103.2" font-size="6.3" text-anchor="end" fill="#8c8c8c" textLength="70.27" lengthAdjust="spacingAndGlyphs">www.pptgenius.com  | 19</text>
<text x="661" y="907.84" font-size="13.8" fill="#333">不同年份销量一览表</text>
<defs><linearGradient id="bg0" x1="0" x2="1" y1="0" y2="0"><stop offset="0" stop-color="#2bb45c"/><stop offset=".35" stop-color="#0c9a40"/><stop offset="1" stop-color="#08812f"/></linearGradient><linearGradient id="bg1" x1="0" x2="1" y1="0" y2="0"><stop offset="0" stop-color="#63c890"/><stop offset=".35" stop-color="#3bb273"/><stop offset="1" stop-color="#2a9d5e"/></linearGradient><linearGradient id="bg2" x1="0" x2="1" y1="0" y2="0"><stop offset="0" stop-color="#999999"/><stop offset=".35" stop-color="#7f7f7f"/><stop offset="1" stop-color="#6b6b6b"/></linearGradient><linearGradient id="bg3" x1="0" x2="1" y1="0" y2="0"><stop offset="0" stop-color="#d2d2d2"/><stop offset=".35" stop-color="#bfbfbf"/><stop offset="1" stop-color="#adadad"/></linearGradient></defs>
<rect x="660" y="921.8" width="4.3" height="4.3" fill="#0c9a40"/>
<text x="666" y="926.96" font-size="7.8" fill="#444">系列</text><text x="681.6" y="927.02" font-size="8.4" fill="#444" textLength="4.67" lengthAdjust="spacingAndGlyphs">1</text>
<rect x="694.83" y="921.8" width="4.3" height="4.3" fill="#3bb273"/>
<text x="700.83" y="926.96" font-size="7.8" fill="#444">系列</text><text x="716.43" y="927.02" font-size="8.4" fill="#444" textLength="4.67" lengthAdjust="spacingAndGlyphs">2</text>
<rect x="729.66" y="921.8" width="4.3" height="4.3" fill="#7f7f7f"/>
<text x="735.66" y="926.96" font-size="7.8" fill="#444">系列</text><text x="751.26" y="927.02" font-size="8.4" fill="#444" textLength="4.67" lengthAdjust="spacingAndGlyphs">3</text>
<rect x="764.49" y="921.8" width="4.3" height="4.3" fill="#bfbfbf"/>
<text x="770.49" y="926.96" font-size="7.8" fill="#444">系列</text><text x="786.09" y="927.02" font-size="8.4" fill="#444" textLength="4.67" lengthAdjust="spacingAndGlyphs">4</text>
<line x1="535" y1="1062" x2="928" y2="1062" stroke="#d4d4d4" stroke-width="0.8"/>
<text x="528.2" y="1064" font-size="5.5" text-anchor="end" fill="#666" textLength="3.06" lengthAdjust="spacingAndGlyphs">0</text>
<line x1="535" y1="1047.67" x2="928" y2="1047.67" stroke="#ebebeb" stroke-width="0.8"/>
<text x="528.2" y="1049.67" font-size="5.5" text-anchor="end" fill="#666" textLength="6.12" lengthAdjust="spacingAndGlyphs">20</text>
<line x1="535" y1="1033.33" x2="928" y2="1033.33" stroke="#ebebeb" stroke-width="0.8"/>
<text x="528.2" y="1035.33" font-size="5.5" text-anchor="end" fill="#666" textLength="6.12" lengthAdjust="spacingAndGlyphs">40</text>
<line x1="535" y1="1019" x2="928" y2="1019" stroke="#ebebeb" stroke-width="0.8"/>
<text x="528.2" y="1021" font-size="5.5" text-anchor="end" fill="#666" textLength="6.12" lengthAdjust="spacingAndGlyphs">60</text>
<line x1="535" y1="1004.67" x2="928" y2="1004.67" stroke="#ebebeb" stroke-width="0.8"/>
<text x="528.2" y="1006.67" font-size="5.5" text-anchor="end" fill="#666" textLength="6.12" lengthAdjust="spacingAndGlyphs">80</text>
<line x1="535" y1="990.33" x2="928" y2="990.33" stroke="#ebebeb" stroke-width="0.8"/>
<text x="528.2" y="992.33" font-size="5.5" text-anchor="end" fill="#666" textLength="9.18" lengthAdjust="spacingAndGlyphs">100</text>
<line x1="535" y1="976" x2="928" y2="976" stroke="#ebebeb" stroke-width="0.8"/>
<text x="528.2" y="978" font-size="5.5" text-anchor="end" fill="#666" textLength="9.18" lengthAdjust="spacingAndGlyphs">120</text>
<line x1="535" y1="961.67" x2="928" y2="961.67" stroke="#ebebeb" stroke-width="0.8"/>
<text x="528.2" y="963.67" font-size="5.5" text-anchor="end" fill="#666" textLength="9.18" lengthAdjust="spacingAndGlyphs">140</text>
<line x1="535" y1="947.33" x2="928" y2="947.33" stroke="#ebebeb" stroke-width="0.8"/>
<text x="528.2" y="949.33" font-size="5.5" text-anchor="end" fill="#666" textLength="9.18" lengthAdjust="spacingAndGlyphs">160</text>
<line x1="535" y1="933" x2="928" y2="933" stroke="#ebebeb" stroke-width="0.8"/>
<text x="528.2" y="935" font-size="5.5" text-anchor="end" fill="#666" textLength="9.18" lengthAdjust="spacingAndGlyphs">180</text>
<rect x="540" y="1019" width="5.8" height="43" fill="url(#bg0)"/>
<text x="542.9" y="1016.4" font-size="4.9" text-anchor="middle" fill="#505050" textLength="5.45" lengthAdjust="spacingAndGlyphs">60</text>
<rect x="548" y="1022.58" width="5.8" height="39.42" fill="url(#bg1)"/>
<text x="550.9" y="1019.98" font-size="4.9" text-anchor="middle" fill="#505050" textLength="5.45" lengthAdjust="spacingAndGlyphs">55</text>
<rect x="556" y="1008.25" width="5.8" height="53.75" fill="url(#bg2)"/>
<text x="558.9" y="1005.65" font-size="4.9" text-anchor="middle" fill="#505050" textLength="5.45" lengthAdjust="spacingAndGlyphs">75</text>
<rect x="564" y="1001.08" width="5.8" height="60.92" fill="url(#bg3)"/>
<text x="566.9" y="998.48" font-size="4.9" text-anchor="middle" fill="#505050" textLength="5.45" lengthAdjust="spacingAndGlyphs">85</text>
<text x="554.9" y="1075.2" font-size="7.7" text-anchor="middle" fill="#333" textLength="17.13" lengthAdjust="spacingAndGlyphs">2010</text>
<rect x="584" y="1004.67" width="5.8" height="57.33" fill="url(#bg0)"/>
<text x="586.9" y="1002.07" font-size="4.9" text-anchor="middle" fill="#505050" textLength="5.45" lengthAdjust="spacingAndGlyphs">80</text>
<rect x="592" y="1019" width="5.8" height="43" fill="url(#bg1)"/>
<text x="594.9" y="1016.4" font-size="4.9" text-anchor="middle" fill="#505050" textLength="5.45" lengthAdjust="spacingAndGlyphs">60</text>
<rect x="600" y="1015.42" width="5.8" height="46.58" fill="url(#bg2)"/>
<text x="602.9" y="1012.82" font-size="4.9" text-anchor="middle" fill="#505050" textLength="5.45" lengthAdjust="spacingAndGlyphs">65</text>
<rect x="608" y="1006.1" width="5.8" height="55.9" fill="url(#bg3)"/>
<text x="610.9" y="1003.5" font-size="4.9" text-anchor="middle" fill="#505050" textLength="5.45" lengthAdjust="spacingAndGlyphs">78</text>
<text x="598.9" y="1075.2" font-size="7.7" text-anchor="middle" fill="#333" textLength="17.13" lengthAdjust="spacingAndGlyphs">2012</text>
<rect x="628" y="997.5" width="5.8" height="64.5" fill="url(#bg0)"/>
<text x="630.9" y="994.9" font-size="4.9" text-anchor="middle" fill="#505050" textLength="5.45" lengthAdjust="spacingAndGlyphs">90</text>
<rect x="636" y="1008.25" width="5.8" height="53.75" fill="url(#bg1)"/>
<text x="638.9" y="1005.65" font-size="4.9" text-anchor="middle" fill="#505050" textLength="5.45" lengthAdjust="spacingAndGlyphs">75</text>
<rect x="644" y="1020.43" width="5.8" height="41.57" fill="url(#bg2)"/>
<text x="646.9" y="1017.83" font-size="4.9" text-anchor="middle" fill="#505050" textLength="5.45" lengthAdjust="spacingAndGlyphs">58</text>
<rect x="652" y="1013.27" width="5.8" height="48.73" fill="url(#bg3)"/>
<text x="654.9" y="1010.67" font-size="4.9" text-anchor="middle" fill="#505050" textLength="5.45" lengthAdjust="spacingAndGlyphs">68</text>
<text x="642.9" y="1075.2" font-size="7.7" text-anchor="middle" fill="#333" textLength="17.13" lengthAdjust="spacingAndGlyphs">2014</text>
<rect x="672" y="990.33" width="5.8" height="71.67" fill="url(#bg0)"/>
<text x="674.9" y="987.73" font-size="4.9" text-anchor="middle" fill="#505050" textLength="8.18" lengthAdjust="spacingAndGlyphs">100</text>
<rect x="680" y="997.5" width="5.8" height="64.5" fill="url(#bg1)"/>
<text x="682.9" y="994.9" font-size="4.9" text-anchor="middle" fill="#505050" textLength="5.45" lengthAdjust="spacingAndGlyphs">90</text>
<rect x="688" y="1029.03" width="5.8" height="32.97" fill="url(#bg2)"/>
<text x="690.9" y="1026.43" font-size="4.9" text-anchor="middle" fill="#505050" textLength="5.45" lengthAdjust="spacingAndGlyphs">46</text>
<rect x="696" y="1056.27" width="5.8" height="5.73" fill="url(#bg3)"/>
<text x="698.9" y="1053.67" font-size="4.9" text-anchor="middle" fill="#505050" textLength="2.73" lengthAdjust="spacingAndGlyphs">8</text>
<text x="686.9" y="1075.2" font-size="7.7" text-anchor="middle" fill="#333" textLength="17.13" lengthAdjust="spacingAndGlyphs">2016</text>
<rect x="716" y="976" width="5.8" height="86" fill="url(#bg0)"/>
<text x="718.9" y="973.4" font-size="4.9" text-anchor="middle" fill="#505050" textLength="8.18" lengthAdjust="spacingAndGlyphs">120</text>
<rect x="724" y="1004.67" width="5.8" height="57.33" fill="url(#bg1)"/>
<text x="726.9" y="1002.07" font-size="4.9" text-anchor="middle" fill="#505050" textLength="5.45" lengthAdjust="spacingAndGlyphs">80</text>
<rect x="732" y="1039.07" width="5.8" height="22.93" fill="url(#bg2)"/>
<text x="734.9" y="1036.47" font-size="4.9" text-anchor="middle" fill="#505050" textLength="5.45" lengthAdjust="spacingAndGlyphs">32</text>
<rect x="740" y="1044.8" width="5.8" height="17.2" fill="url(#bg3)"/>
<text x="742.9" y="1042.2" font-size="4.9" text-anchor="middle" fill="#505050" textLength="5.45" lengthAdjust="spacingAndGlyphs">24</text>
<text x="730.9" y="1075.2" font-size="7.7" text-anchor="middle" fill="#333" textLength="17.13" lengthAdjust="spacingAndGlyphs">2018</text>
<rect x="760" y="983.17" width="5.8" height="78.83" fill="url(#bg0)"/>
<text x="762.9" y="980.57" font-size="4.9" text-anchor="middle" fill="#505050" textLength="8.18" lengthAdjust="spacingAndGlyphs">110</text>
<rect x="768" y="997.5" width="5.8" height="64.5" fill="url(#bg1)"/>
<text x="770.9" y="994.9" font-size="4.9" text-anchor="middle" fill="#505050" textLength="5.45" lengthAdjust="spacingAndGlyphs">90</text>
<rect x="776" y="1023.3" width="5.8" height="38.7" fill="url(#bg2)"/>
<text x="778.9" y="1020.7" font-size="4.9" text-anchor="middle" fill="#505050" textLength="5.45" lengthAdjust="spacingAndGlyphs">54</text>
<rect x="784" y="1036.2" width="5.8" height="25.8" fill="url(#bg3)"/>
<text x="786.9" y="1033.6" font-size="4.9" text-anchor="middle" fill="#505050" textLength="5.45" lengthAdjust="spacingAndGlyphs">36</text>
<text x="774.9" y="1075.2" font-size="7.7" text-anchor="middle" fill="#333" textLength="17.13" lengthAdjust="spacingAndGlyphs">2020</text>
<rect x="804" y="947.33" width="5.8" height="114.67" fill="url(#bg0)"/>
<text x="806.9" y="944.73" font-size="4.9" text-anchor="middle" fill="#505050" textLength="8.18" lengthAdjust="spacingAndGlyphs">160</text>
<rect x="812" y="993.2" width="5.8" height="68.8" fill="url(#bg1)"/>
<text x="814.9" y="990.6" font-size="4.9" text-anchor="middle" fill="#505050" textLength="5.45" lengthAdjust="spacingAndGlyphs">96</text>
<rect x="820" y="1031.9" width="5.8" height="30.1" fill="url(#bg2)"/>
<text x="822.9" y="1029.3" font-size="4.9" text-anchor="middle" fill="#505050" textLength="5.45" lengthAdjust="spacingAndGlyphs">42</text>
<rect x="828" y="1024.02" width="5.8" height="37.98" fill="url(#bg3)"/>
<text x="830.9" y="1021.42" font-size="4.9" text-anchor="middle" fill="#505050" textLength="5.45" lengthAdjust="spacingAndGlyphs">53</text>
<text x="818.9" y="1075.2" font-size="7.7" text-anchor="middle" fill="#333" textLength="17.13" lengthAdjust="spacingAndGlyphs">2022</text>
<rect x="848" y="954.5" width="5.8" height="107.5" fill="url(#bg0)"/>
<text x="850.9" y="951.9" font-size="4.9" text-anchor="middle" fill="#505050" textLength="8.18" lengthAdjust="spacingAndGlyphs">150</text>
<rect x="856" y="976" width="5.8" height="86" fill="url(#bg1)"/>
<text x="858.9" y="973.4" font-size="4.9" text-anchor="middle" fill="#505050" textLength="8.18" lengthAdjust="spacingAndGlyphs">120</text>
<rect x="864" y="1036.2" width="5.8" height="25.8" fill="url(#bg2)"/>
<text x="866.9" y="1033.6" font-size="4.9" text-anchor="middle" fill="#505050" textLength="5.45" lengthAdjust="spacingAndGlyphs">36</text>
<rect x="872" y="1031.9" width="5.8" height="30.1" fill="url(#bg3)"/>
<text x="874.9" y="1029.3" font-size="4.9" text-anchor="middle" fill="#505050" textLength="5.45" lengthAdjust="spacingAndGlyphs">42</text>
<text x="862.9" y="1075.2" font-size="7.7" text-anchor="middle" fill="#333" textLength="17.13" lengthAdjust="spacingAndGlyphs">2024</text>
<rect x="892" y="968.83" width="5.8" height="93.17" fill="url(#bg0)"/>
<text x="894.9" y="966.23" font-size="4.9" text-anchor="middle" fill="#505050" textLength="8.18" lengthAdjust="spacingAndGlyphs">130</text>
<rect x="900" y="983.17" width="5.8" height="78.83" fill="url(#bg1)"/>
<text x="902.9" y="980.57" font-size="4.9" text-anchor="middle" fill="#505050" textLength="8.18" lengthAdjust="spacingAndGlyphs">110</text>
<rect x="908" y="1017.57" width="5.8" height="44.43" fill="url(#bg2)"/>
<text x="910.9" y="1014.97" font-size="4.9" text-anchor="middle" fill="#505050" textLength="5.45" lengthAdjust="spacingAndGlyphs">62</text>
<rect x="916" y="1039.07" width="5.8" height="22.93" fill="url(#bg3)"/>
<text x="918.9" y="1036.47" font-size="4.9" text-anchor="middle" fill="#505050" textLength="5.45" lengthAdjust="spacingAndGlyphs">32</text>
<text x="906.9" y="1075.2" font-size="7.7" text-anchor="middle" fill="#333" textLength="17.13" lengthAdjust="spacingAndGlyphs">2026</text>
</svg></section>
<section class="s" style="left:0px;top:1120px" aria-label="立体图表"><svg width="475" height="270" viewBox="0 1120 475 270">
<rect x="0" y="1120" width="475" height="27" fill="#0c9a40"/>
<text x="18.5" y="1139.6" font-size="15.8" font-weight="bold" fill="#fff">立体图表</text>
<text x="18.3" y="1383.32" font-size="6.1" fill="#8c8c8c">广州现代信息工程职业技术学院</text>
<text x="104.6" y="1383.2" font-size="6.3" fill="#8c8c8c" textLength="49.6" lengthAdjust="spacingAndGlyphs">| University Name</text>
<text x="462" y="1383.2" font-size="6.3" text-anchor="end" fill="#8c8c8c" textLength="70.27" lengthAdjust="spacingAndGlyphs">www.pptgenius.com  | 20</text>
<path d="M61 1273.4H393.800L421 1260H88Z" fill="#fff" stroke="#e8e8e8" stroke-width=".8"/>
<path d="M61 1273.4L88 1260H421" fill="none" stroke="#e8e8e8" stroke-width=".8"/>
<text x="57.2" y="1275.3" font-size="5.2" text-anchor="end" fill="#777" textLength="7.52" lengthAdjust="spacingAndGlyphs">0%</text>
<path d="M61 1258.22L88 1244.9H421" fill="none" stroke="#e8e8e8" stroke-width=".8"/>
<text x="57.2" y="1260.12" font-size="5.2" text-anchor="end" fill="#777" textLength="10.41" lengthAdjust="spacingAndGlyphs">20%</text>
<path d="M61 1243.04L88 1229.8H421" fill="none" stroke="#e8e8e8" stroke-width=".8"/>
<text x="57.2" y="1244.94" font-size="5.2" text-anchor="end" fill="#777" textLength="10.41" lengthAdjust="spacingAndGlyphs">40%</text>
<path d="M61 1227.86L88 1214.7H421" fill="none" stroke="#e8e8e8" stroke-width=".8"/>
<text x="57.2" y="1229.76" font-size="5.2" text-anchor="end" fill="#777" textLength="10.41" lengthAdjust="spacingAndGlyphs">60%</text>
<path d="M61 1212.68L88 1199.6H421" fill="none" stroke="#e8e8e8" stroke-width=".8"/>
<text x="57.2" y="1214.58" font-size="5.2" text-anchor="end" fill="#777" textLength="10.41" lengthAdjust="spacingAndGlyphs">80%</text>
<path d="M61 1197.5L88 1184.5H421" fill="none" stroke="#e8e8e8" stroke-width=".8"/>
<text x="57.2" y="1199.4" font-size="5.2" text-anchor="end" fill="#777" textLength="13.3" lengthAdjust="spacingAndGlyphs">100%</text>
<line x1="61" y1="1197.5" x2="61" y2="1273.4" stroke="#e8e8e8" stroke-width="0.8"/>
<line x1="88" y1="1184.5" x2="88" y2="1260" stroke="#e8e8e8" stroke-width="0.8"/>
<path d="M102.5 1192.5L87 1268.8H110.1Z" fill="#d6d6d6"/>
<path d="M102.5 1192.5L110.1 1268.8L118.1 1263.8Z" fill="#b4b4b4"/>
<path d="M97.73 1216L87 1268.8H110.1L104.84 1216Z" fill="#109a42"/>
<path d="M104.84 1216L110.1 1268.8L118.1 1263.8L107.3 1214.46Z" fill="#0a7a32"/>
<text x="81.93" y="1284.73" font-size="5.6" fill="#666">分类</text><text x="93.13" y="1284.76" font-size="6" fill="#666" textLength="3.34" lengthAdjust="spacingAndGlyphs">1</text>
<path d="M158 1192.5L142.5 1268.8H165.6Z" fill="#d6d6d6"/>
<path d="M158 1192.5L165.6 1268.8L173.6 1263.8Z" fill="#b4b4b4"/>
<path d="M149.37 1235L142.5 1268.8H165.6L162.23 1235Z" fill="#1ea450"/>
<path d="M162.23 1235L165.6 1268.8L173.6 1263.8L166.69 1232.21Z" fill="#16823e"/>
<text x="137.43" y="1284.73" font-size="5.6" fill="#666">分类</text><text x="148.63" y="1284.76" font-size="6" fill="#666" textLength="3.34" lengthAdjust="spacingAndGlyphs">2</text>
<path d="M213.8 1192.5L198.3 1268.8H221.4Z" fill="#d6d6d6"/>
<path d="M213.8 1192.5L221.4 1268.8L229.4 1263.8Z" fill="#b4b4b4"/>
<path d="M206.79 1227L198.3 1268.8H221.4L217.24 1227Z" fill="#2dab5e"/>
<path d="M217.24 1227L221.4 1268.8L229.4 1263.8L220.85 1224.74Z" fill="#238a4b"/>
<text x="193.23" y="1284.73" font-size="5.6" fill="#666">分类</text><text x="204.43" y="1284.76" font-size="6" fill="#666" textLength="3.34" lengthAdjust="spacingAndGlyphs">3</text>
<path d="M269.3 1192.5L253.8 1268.8H276.9Z" fill="#d6d6d6"/>
<path d="M269.3 1192.5L276.9 1268.8L284.9 1263.8Z" fill="#b4b4b4"/>
<path d="M259.65 1240L253.8 1268.8H276.9L274.03 1240Z" fill="#45b872"/>
<path d="M274.03 1240L276.9 1268.8L284.9 1263.8L279.01 1236.89Z" fill="#37975c"/>
<text x="248.73" y="1284.73" font-size="5.6" fill="#666">分类</text><text x="259.93" y="1284.76" font-size="6" fill="#666" textLength="3.34" lengthAdjust="spacingAndGlyphs">4</text>
<path d="M325 1192.5L309.5 1268.8H332.6Z" fill="#d6d6d6"/>
<path d="M325 1192.5L332.6 1268.8L340.6 1263.8Z" fill="#b4b4b4"/>
<path d="M313.56 1248.8L309.5 1268.8H332.6L330.61 1248.8Z" fill="#55bf7f"/>
<path d="M330.61 1248.8L332.6 1268.8L340.6 1263.8L336.51 1245.11Z" fill="#449e67"/>
<text x="304.43" y="1284.73" font-size="5.6" fill="#666">分类</text><text x="315.63" y="1284.76" font-size="6" fill="#666" textLength="3.34" lengthAdjust="spacingAndGlyphs">5</text>
<path d="M380.6 1192.5L365.1 1268.8H388.2Z" fill="#d6d6d6"/>
<path d="M380.6 1192.5L388.2 1268.8L396.2 1263.8Z" fill="#b4b4b4"/>
<path d="M375.93 1215.5L365.1 1268.8H388.2L382.89 1215.5Z" fill="#80d0a2"/>
<path d="M382.89 1215.5L388.2 1268.8L396.2 1263.8L385.3 1213.99Z" fill="#68b287"/>
<text x="360.03" y="1284.73" font-size="5.6" fill="#666">分类</text><text x="371.23" y="1284.76" font-size="6" fill="#666" textLength="3.34" lengthAdjust="spacingAndGlyphs">6</text>
<text x="65.5" y="1321.08" font-size="11.8" font-weight="bold" fill="#0a8637">点击此处添加标题</text>
<text x="65" y="1336.86" font-size="8.05" fill="#404040">标题数字等都可以通过点击和重新输入进</text>
<text x="65" y="1351.16" font-size="8.05" fill="#404040" textLength="136.85" lengthAdjust="spacing">行更改，顶部“开始”面板中可以修改</text>
<text x="261.3" y="1321.08" font-size="11.8" font-weight="bold" fill="#0a8637">点击此处添加标题</text>
<text x="260.8" y="1336.86" font-size="8.05" fill="#404040">标题数字等都可以通过点击和重新输入进</text>
<text x="260.8" y="1351.16" font-size="8.05" fill="#404040" textLength="136.85" lengthAdjust="spacing">行更改，顶部“开始”面板中可以修改</text>
</svg></section>
<section class="s" style="left:485px;top:1120px" aria-label="4部分并列关系"><svg width="475" height="270" viewBox="485 1120 475 270">
<rect x="485" y="1120" width="475" height="27" fill="#0c9a40"/>
<text x="512.68" y="1139.6" font-size="15.8" font-weight="bold" fill="#fff">部分并列关系</text><text x="503.5" y="1139.54" font-size="16.5" font-weight="bold" fill="#fff" textLength="9.18" lengthAdjust="spacingAndGlyphs">4</text>
<text x="503.3" y="1383.32" font-size="6.1" fill="#8c8c8c">广州现代信息工程职业技术学院</text>
<text x="589.6" y="1383.2" font-size="6.3" fill="#8c8c8c" textLength="49.6" lengthAdjust="spacingAndGlyphs">| University Name</text>
<text x="947" y="1383.2" font-size="6.3" text-anchor="end" fill="#8c8c8c" textLength="70.27" lengthAdjust="spacingAndGlyphs">www.pptgenius.com  | 21</text>
<defs><clipPath id="q4"><rect x="600" y="1150" width="124.5" height="114.5"/></clipPath><clipPath id="q1"><rect x="728" y="1150" width="122" height="122.3"/></clipPath><clipPath id="q2"><rect x="722.9" y="1275.9" width="127.1" height="104.1"/></clipPath><clipPath id="q3"><rect x="600" y="1268.6" width="118.3" height="111.4"/></clipPath><linearGradient id="g2" x1="0" y1="1276" x2="0" y2="1346" gradientUnits="userSpaceOnUse"><stop offset="0" stop-color="#828282"/><stop offset="1" stop-color="#979797"/></linearGradient><linearGradient id="g3" x1="0" y1="1268" x2="0" y2="1346" gradientUnits="userSpaceOnUse"><stop offset="0" stop-color="#606060"/><stop offset="1" stop-color="#484848"/></linearGradient></defs>
<path d="M643.1 1265.8a79.4 79.4 0 1 0 158.8 0a79.4 79.4 0 1 0 -158.8 0zM680.1 1265.8a42.4 42.4 0 1 0 84.8 0a42.4 42.4 0 1 0 -84.8 0z" fill="#0c9a40" fill-rule="evenodd" clip-path="url(#q4)"/>
<path d="M643.1 1265.8a79.4 79.4 0 1 0 158.8 0a79.4 79.4 0 1 0 -158.8 0zM680.1 1265.8a42.4 42.4 0 1 0 84.8 0a42.4 42.4 0 1 0 -84.8 0z" fill="#bfbfbf" fill-rule="evenodd" clip-path="url(#q1)"/>
<path d="M643.1 1265.8a79.4 79.4 0 1 0 158.8 0a79.4 79.4 0 1 0 -158.8 0zM680.1 1265.8a42.4 42.4 0 1 0 84.8 0a42.4 42.4 0 1 0 -84.8 0z" fill="url(#g2)" fill-rule="evenodd" clip-path="url(#q2)"/>
<path d="M643.1 1265.8a79.4 79.4 0 1 0 158.8 0a79.4 79.4 0 1 0 -158.8 0zM680.1 1265.8a42.4 42.4 0 1 0 84.8 0a42.4 42.4 0 1 0 -84.8 0z" fill="url(#g3)" fill-rule="evenodd" clip-path="url(#q3)"/>
<path d="M728 1199.800l3.400 4.800l-3.400 4.800z" fill="#fff"/><path d="M724.400 1201.400l3.300 3.200l-3.300 3.200z" fill="#0c9a40"/>
<path d="M779 1275.900l4.900 3.400l4.900-3.400z" fill="#fff"/><path d="M780.600 1272.200l3.300 3.300l3.300-3.300z" fill="#bfbfbf"/>
<path d="M718.300 1322.600l-3.400 4.900l3.400 4.900z" fill="#fff"/><path d="M723 1324.200l-3.300 3.300l3.300 3.300z" fill="#8a8a8a"/>
<path d="M656.800 1264.600l4.900-3.400l4.900 3.400z" fill="#fff"/><path d="M658.400 1268.700l3.300-3.300l3.300 3.300z" fill="#595959"/>
<text x="748.1" y="1215" font-size="18.4" font-weight="bold" text-anchor="middle" fill="#fff" textLength="20.47" lengthAdjust="spacingAndGlyphs">01</text>
<text x="778.7" y="1298.8" font-size="18.4" font-weight="bold" text-anchor="middle" fill="#fff" textLength="20.47" lengthAdjust="spacingAndGlyphs">02</text>
<text x="701.2" y="1332.6" font-size="18.4" font-weight="bold" text-anchor="middle" fill="#fff" textLength="20.47" lengthAdjust="spacingAndGlyphs">03</text>
<text x="660.4" y="1257.6" font-size="18.4" font-weight="bold" text-anchor="middle" fill="#fff" textLength="20.47" lengthAdjust="spacingAndGlyphs">04</text>
<g transform="rotate(-39.5 682.8 1222.2)"><text x="664.6" y="1225.66" font-size="9.1" font-weight="bold" fill="#fff">添加标题</text></g>
<g transform="rotate(56.3 774 1235.8)"><text x="755.8" y="1239.26" font-size="9.1" font-weight="bold" fill="#fff">添加标题</text></g>
<g transform="rotate(-32.6 753.7 1314.4)"><text x="735.5" y="1317.86" font-size="9.1" font-weight="bold" fill="#fff">添加标题</text></g>
<g transform="rotate(53.1 675.8 1299.4)"><text x="657.6" y="1302.86" font-size="9.1" font-weight="bold" fill="#fff">添加标题</text></g>
<text x="537.4" y="1206.88" font-size="11.8" font-weight="bold" fill="#0a8637">点击此处添加标题</text>
<text x="529.62" y="1222.69" font-size="7.85" fill="#404040">标题数字等都可以通过点击和</text>
<text x="568.92" y="1237.09" font-size="7.85" fill="#404040">重新输入进行更改</text>
<text x="820" y="1206.88" font-size="11.8" font-weight="bold" fill="#222">点击此处添加标题</text>
<text x="820" y="1222.69" font-size="7.85" fill="#404040">标题数字等都可以通过点击和</text>
<text x="820" y="1237.09" font-size="7.85" fill="#404040">重新输入进行更改</text>
<text x="537.4" y="1309.48" font-size="11.8" font-weight="bold" fill="#0a8637">点击此处添加标题</text>
<text x="529.62" y="1325.29" font-size="7.85" fill="#404040">标题数字等都可以通过点击和</text>
<text x="568.92" y="1339.69" font-size="7.85" fill="#404040">重新输入进行更改</text>
<text x="820" y="1309.48" font-size="11.8" font-weight="bold" fill="#222">点击此处添加标题</text>
<text x="820" y="1325.29" font-size="7.85" fill="#404040">标题数字等都可以通过点击和</text>
<text x="820" y="1339.69" font-size="7.85" fill="#404040">重新输入进行更改</text>
</svg></section>
</body>
</html>
